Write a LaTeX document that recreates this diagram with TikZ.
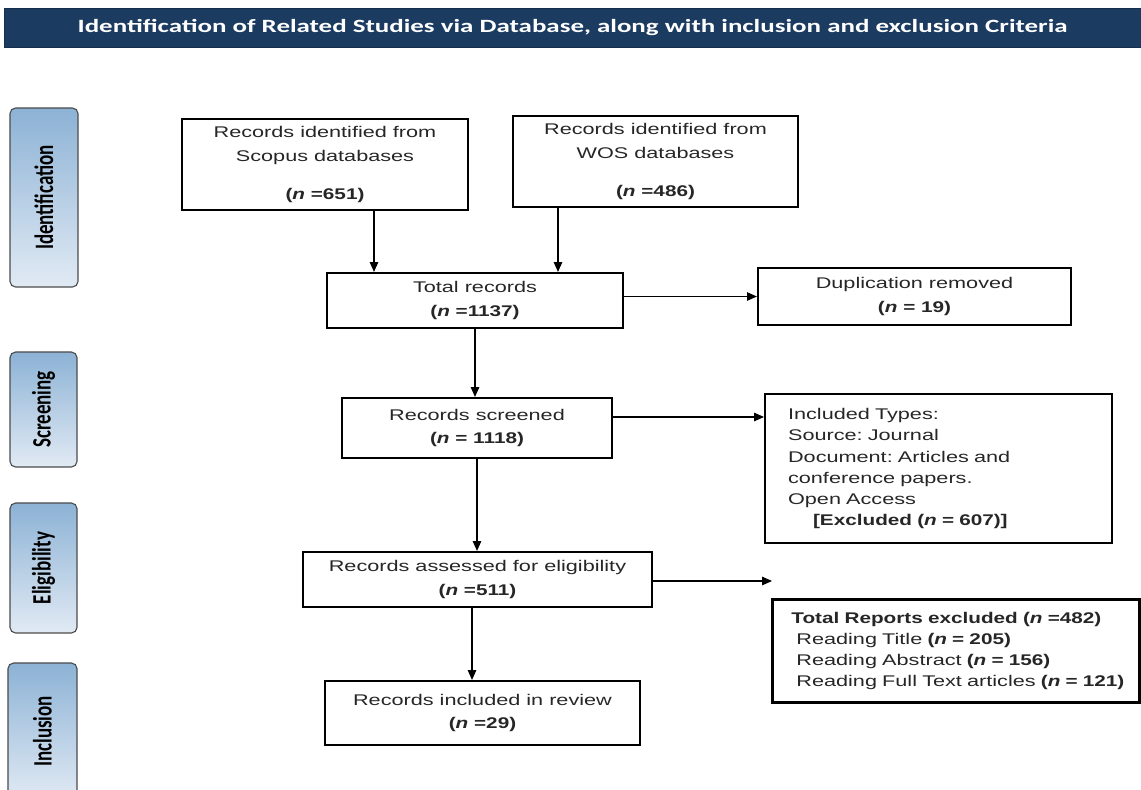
\documentclass[tikz,border=0pt]{standalone}
\usepackage{fontspec}
\setmainfont{Liberation Sans}[UprightFeatures={FakeStretch=1.4}, ItalicFeatures={FakeStretch=1.4}, BoldFeatures={FakeStretch=1.34}, BoldItalicFeatures={FakeStretch=1.34}]
\newfontfamily\phasefont{Carlito}
\newfontfamily\titlefont{Carlito}[FakeStretch=1.44]
\usetikzlibrary{arrows.meta,calc}
\definecolor{titleblue}{HTML}{1B3B61}
\definecolor{phasetop}{HTML}{8CB2D5}
\definecolor{phasebot}{HTML}{E1EAF4}
\frenchspacing

\begin{document}
\begin{tikzpicture}[x=0.025cm, y=-0.025cm, font=\fontsize{11}{17}\selectfont, text=black!85,
box/.style={draw=black, line width=1.5pt, align=center, inner sep=0pt},
listbox/.style={box, align=left, anchor=north west, inner ysep=0pt, font=\fontsize{11}{15}\selectfont},
phase/.style={draw=black!70, line width=0.8pt, rounded corners=4pt, top color=phasetop, bottom color=phasebot, inner sep=0pt, text=black, font=\phasefont\bfseries\fontsize{13.5}{14}\selectfont},
arr/.style={-{Triangle[length=7pt, width=6pt]}, line width=0.8pt}]

\clip (0,0) rectangle (1141,789);

\node[fill=titleblue, draw=titleblue!80!black, minimum width=28.425cm, minimum height=0.975cm, inner sep=0pt, text=white, font=\titlefont\bfseries\fontsize{13.3}{16}\selectfont] (title) at (572.5,27.5) {Identification of Related Studies via Database, along with inclusion and exclusion Criteria};

\node[phase, minimum width=1.7cm, minimum height=4.475cm] (identification) at (44,197.5) {\rotatebox{90}{\scalebox{1}[1.4]{Identification}}};
\node[phase, minimum width=1.675cm, minimum height=2.875cm] (screening) at (43.5,409.5) {\rotatebox{90}{\scalebox{1}[1.4]{Screening}}};
\node[phase, minimum width=1.675cm, minimum height=3.25cm] (eligibility) at (43.5,568) {\rotatebox{90}{\scalebox{1}[1.4]{Eligibility}}};
\node[phase, minimum width=1.725cm, minimum height=3.425cm] (inclusion) at (42.5,731.5) {\rotatebox{90}{\scalebox{1}[1.4]{Inclusion}}};

\node[box, minimum width=7.15cm, minimum height=2.275cm] (scopus) at (325,164.5) {Records identified from\\Scopus databases\\[10pt]\textbf{(\textit{n} =651)}};
\node[box, minimum width=7.125cm, minimum height=2.275cm] (wos) at (655.5,161.5) {Records identified from\\WOS databases\\[10pt]\textbf{(\textit{n} =486)}};
\node[box, minimum width=7.4cm, minimum height=1.375cm] (total) at (475,300.5) {Total records\\\textbf{(\textit{n} =1137)}};
\node[box, minimum width=7.825cm, minimum height=1.425cm] (dup) at (914.5,296.5) {Duplication removed\\\textbf{(\textit{n} = 19)}};
\node[box, minimum width=6.75cm, minimum height=1.5cm] (screened) at (477,428) {Records screened\\\textbf{(\textit{n} = 1118)}};
\node[listbox, text width=7.525cm, inner xsep=0.575cm, minimum height=3.725cm] (types) at (764,393) {Included Types:\\Source: Journal\\Document: Articles and\\conference papers.\\Open Access\\\hspace*{0.625cm}\textbf{[Excluded (\textit{n} = 607)]}};
\node[box, minimum width=8.725cm, minimum height=1.375cm] (elig) at (477.5,579.5) {Records assessed for eligibility\\\textbf{(\textit{n} =511)}};
\node[box, minimum width=7.875cm, minimum height=1.6cm] (incl) at (482.5,713) {Records included in review\\\textbf{(\textit{n} =29)}};
\node[listbox, line width=2pt, text width=8.575cm, inner xsep=0.3cm, minimum height=2.575cm] (excl) at (771,598) {\hspace*{0.175cm}\textbf{Total Reports excluded (\textit{n} =482)}\\\hspace*{0.3cm}Reading Title \textbf{(\textit{n} = 205)}\\\hspace*{0.3cm}Reading Abstract \textbf{(\textit{n} = 156)}\\\hspace*{0.3cm}Reading Full Text articles \textbf{(\textit{n} = 121)}};

\coordinate (sc) at (374,0);
\coordinate (ws) at (558,0);
\coordinate (ty) at (0,417);
\coordinate (ex) at (772,581);
\coordinate (ic) at (472,0);
\draw[arr] (scopus.south -| sc) -- (total.north -| sc);
\draw[arr] (wos.south -| ws) -- (total.north -| ws);
\draw[arr] (dup.west -| total.east) -- (dup.west);
\draw[arr] (total.south) -- (screened.north -| total.south);
\draw[arr] (screened.east |- ty) -- (types.west |- ty);
\draw[arr] (screened.south) -- (elig.north -| screened.south);
\draw[arr] (elig.east |- ex) -- (ex);
\draw[arr] (elig.south -| ic) -- (incl.north -| ic);
%
\end{tikzpicture}
\end{document}
